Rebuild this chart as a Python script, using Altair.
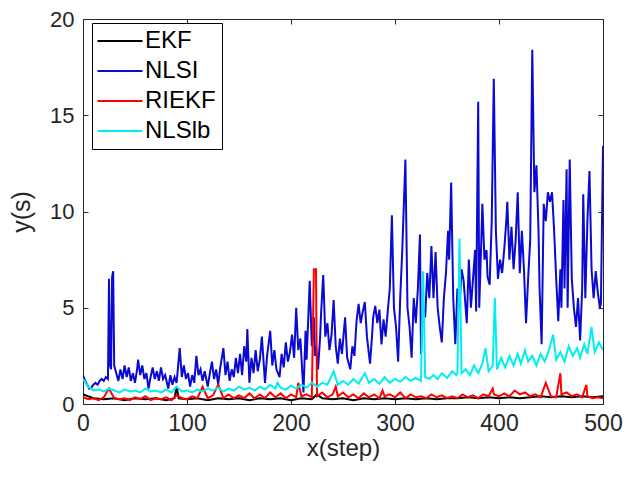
import altair as alt
import pandas as pd

names = ["EKF", "NLSI", "RIEKF", "NLSlb"]
colors = ["#000000", "#0a0ad2", "#ff0000", "#00eef0"]
x_ticks = [0, 100, 200, 300, 400, 500]
y_ticks = [0, 5, 10, 15, 20]

ekf_x = [0, 10, 20, 30, 40, 50, 60, 70, 80, 88, 90, 92, 100, 110, 120, 130, 140, 150, 160, 170, 180,
         190, 200, 210, 220, 225, 230, 240, 250, 260, 270, 280, 290, 300, 310, 320, 330, 340, 350,
         360, 370, 380, 390, 400, 410, 420, 430, 440, 450, 460, 470, 480, 490, 500]
ekf_y = [0.5, 0.3, 0.25, 0.3, 0.2, 0.3, 0.25, 0.3, 0.2, 0.3, 0.9, 0.3, 0.25, 0.3, 0.2, 0.3, 0.25, 0.3,
         0.2, 0.3, 0.25, 0.3, 0.2, 0.3, 0.25, 0.5, 0.3, 0.25, 0.3, 0.2, 0.3, 0.25, 0.3, 0.25, 0.3, 0.25,
         0.3, 0.25, 0.3, 0.3, 0.35, 0.3, 0.35, 0.3, 0.35, 0.3, 0.35, 0.4, 0.35, 0.4, 0.35, 0.4, 0.35, 0.4]

nlsi_x = [0, 2, 4, 6, 8, 10, 12, 14, 16, 18, 20, 22, 24, 25, 26, 27, 28, 29, 30, 32, 34, 36, 38, 40,
          42, 44, 46, 48, 50, 52, 53, 55, 57, 59, 61, 63, 65, 67, 69, 71, 73, 75, 77, 79, 82, 84, 86,
          88, 90, 93, 95, 97, 99, 101, 103, 105, 107, 109, 111, 113, 115, 117, 120, 122, 124, 126,
          128, 130, 132, 135, 137, 139, 141, 143, 145, 147, 149, 151, 153, 155, 157, 158, 160, 162,
          164, 166, 168, 170, 172, 174, 175, 177, 180, 182, 184, 186, 189, 191, 193, 195, 197, 199,
          201, 203, 205, 207, 209, 212, 214, 215, 218, 220, 222, 223, 224, 226, 228, 229, 231, 233,
          235, 237, 239, 241, 243, 245, 247, 249, 252, 254, 257, 259, 261, 263, 265, 267, 269, 271,
          273, 276, 278, 279, 281, 283, 285, 287, 289, 291, 293, 295, 297, 299, 301, 303, 305, 307,
          310, 312, 314, 316, 318, 320, 322, 324, 325, 327, 329, 331, 333, 335, 337, 339, 341, 343,
          345, 347, 349, 351, 352, 354, 356, 358, 360, 362, 364, 366, 369, 371, 373, 375, 377, 378,
          380, 381, 383, 384, 386, 388, 389, 391, 393, 395, 397, 399, 401, 403, 405, 407, 408, 410,
          412, 414, 416, 418, 420, 422, 424, 426, 428, 430, 432, 434, 436, 438, 439, 441, 443, 445,
          447, 449, 451, 453, 455, 457, 459, 460, 462, 463, 465, 466, 468, 470, 472, 474, 476, 478,
          480, 481, 483, 485, 487, 489, 491, 493, 495, 497, 498, 500]
nlsi_y = [1.5, 1.2, 1.0, 0.8, 0.85, 1.0, 1.1, 1.0, 1.2, 1.3, 1.2, 1.4, 1.3, 6.5, 2.0, 1.8, 6.6, 6.9,
          2.0, 1.6, 1.2, 1.8, 1.3, 2.0, 1.4, 1.9, 1.2, 1.6, 1.1, 1.8, 2.3, 1.5, 2.0, 1.3, 1.6, 0.8,
          1.4, 1.9, 1.3, 1.7, 1.2, 1.9, 1.3, 1.5, 0.8, 1.5, 1.0, 1.4, 1.1, 2.9, 1.4, 2.0, 1.3, 1.6,
          0.9, 1.5, 1.1, 2.5, 1.5, 1.8, 1.2, 1.7, 0.9, 1.6, 2.2, 1.3, 1.8, 1.0, 1.9, 2.9, 1.5, 2.2,
          1.2, 1.8, 1.4, 2.4, 1.6, 2.6, 1.5, 3.0, 2.2, 3.9, 1.1, 2.4, 1.6, 2.8, 1.7, 2.3, 3.5, 1.9,
          1.1, 2.5, 3.8, 2.0, 2.8, 1.8, 1.4, 2.6, 1.9, 3.2, 2.2, 2.7, 3.6, 2.4, 5.0, 2.8, 3.4, 0.6,
          3.8, 2.3, 6.4, 3.0, 4.5, 2.5, 3.0, 1.8, 3.5, 4.8, 6.7, 3.5, 4.2, 2.8, 3.6, 5.4, 3.0, 2.1,
          3.4, 2.6, 4.5, 2.4, 1.8, 3.0, 2.5, 4.3, 5.2, 4.2, 4.8, 5.3, 3.5, 2.1, 3.6, 4.5, 5.1, 4.2,
          4.9, 3.1, 4.4, 3.5, 4.8, 6.0, 9.8, 5.0, 4.0, 2.2, 5.5, 8.0, 12.7, 5.0, 4.0, 2.4, 5.5, 4.2,
          6.0, 8.8, 2.6, 5.0, 4.5, 6.8, 5.5, 8.2, 5.5, 7.9, 5.0, 4.0, 3.2, 5.5, 6.8, 9.0, 7.5, 11.5,
          5.5, 3.1, 6.0, 5.0, 7.0, 6.4, 4.2, 7.5, 5.0, 6.5, 8.0, 4.8, 15.7, 5.0, 8.5, 10.4, 7.5, 8.0,
          6.6, 6.2, 9.5, 16.9, 9.0, 6.5, 7.5, 6.8, 8.0, 9.5, 10.5, 7.5, 9.2, 7.0, 8.5, 11.0, 6.8, 9.0,
          7.0, 4.2, 6.5, 8.5, 18.4, 11.0, 12.4, 9.0, 6.0, 3.1, 10.4, 9.5, 11.0, 10.5, 11.0, 9.0, 6.5,
          4.3, 7.0, 5.0, 10.6, 6.0, 12.2, 5.0, 12.7, 6.5, 5.0, 4.0, 5.5, 3.3, 6.0, 10.9, 5.5, 9.5,
          12.1, 7.0, 5.5, 6.9, 5.8, 5.0, 5.2, 13.4]

riekf_x = [0, 5, 10, 15, 20, 25, 30, 35, 40, 45, 50, 55, 60, 65, 70, 75, 80, 85, 90, 95, 100, 105,
           110, 115, 120, 125, 130, 135, 140, 145, 150, 155, 160, 165, 170, 175, 180, 185, 190, 195,
           200, 205, 207, 210, 215, 220, 222, 224, 225, 230, 235, 240, 243, 245, 250, 255, 260, 265,
           270, 275, 280, 285, 288, 290, 295, 300, 305, 310, 315, 320, 325, 330, 335, 340, 345, 350,
           355, 360, 365, 370, 375, 380, 385, 390, 394, 395, 400, 405, 410, 415, 420, 425, 430, 435,
           440, 445, 450, 455, 459, 460, 465, 470, 475, 480, 484, 485, 490, 495, 500]
riekf_y = [0.35, 0.25, 0.3, 0.2, 0.35, 0.8, 0.3, 0.25, 0.3, 0.2, 0.35, 0.25, 0.4, 0.2, 0.3, 0.25,
           0.35, 0.2, 0.45, 0.3, 0.25, 0.4, 0.3, 0.9, 0.3, 0.45, 1.0, 0.3, 0.5, 0.3, 0.45, 0.3, 0.55,
           0.3, 0.5, 0.3, 0.6, 0.35, 0.55, 0.3, 0.5, 0.35, 1.1, 0.4, 0.5, 0.35, 7.0, 7.0, 0.4, 0.6,
           0.35, 0.5, 0.9, 0.4, 0.6, 0.35, 0.5, 0.3, 0.55, 0.35, 0.5, 0.3, 0.7, 0.4, 0.5, 0.35, 0.6,
           0.3, 0.5, 0.35, 0.4, 0.3, 0.5, 0.35, 0.45, 0.3, 0.4, 0.3, 0.5, 0.35, 0.45, 0.3, 0.5, 0.4,
           0.8, 0.5, 0.4, 0.55, 0.4, 0.7, 0.5, 0.6, 0.4, 0.5, 0.35, 1.1, 0.4, 0.35, 1.6, 0.5, 0.6,
           0.4, 0.5, 0.35, 1.0, 0.4, 0.3, 0.35, 0.3]

nlslb_x = [0, 5, 10, 15, 20, 25, 30, 35, 40, 45, 50, 55, 60, 65, 70, 75, 80, 85, 90, 95, 100, 105,
           110, 115, 120, 125, 130, 135, 140, 145, 150, 155, 160, 165, 170, 175, 180, 185, 187, 190,
           195, 200, 205, 210, 215, 220, 225, 230, 235, 241, 245, 250, 255, 260, 265, 271, 275, 280,
           285, 290, 295, 300, 305, 310, 315, 320, 325, 327, 329, 333, 337, 341, 345, 350, 355, 359,
           360, 362, 364, 368, 372, 376, 380, 384, 387, 390, 394, 396, 398, 402, 406, 410, 414, 418,
           421, 425, 428, 432, 436, 440, 444, 448, 452, 455, 459, 463, 467, 471, 475, 478, 482, 485,
           489, 492, 496, 500]
nlslb_y = [1.3, 0.9, 0.7, 0.75, 0.65, 0.8, 0.7, 0.6, 0.75, 0.65, 0.7, 0.6, 0.8, 0.65, 0.7, 0.6, 0.75,
           0.6, 0.9, 0.65, 0.7, 0.6, 0.75, 0.65, 0.8, 0.7, 0.85, 0.65, 0.8, 0.7, 0.9, 0.75, 0.85, 0.7,
           0.9, 0.75, 1.0, 0.8, 1.1, 0.85, 0.75, 0.95, 0.8, 1.0, 0.85, 1.1, 0.9, 1.1, 1.0, 1.7, 1.0,
           1.2, 1.0, 1.3, 1.05, 1.6, 1.1, 1.3, 1.05, 1.4, 1.1, 1.3, 1.15, 1.4, 1.2, 1.35, 1.2, 6.9,
           1.4, 1.3, 1.5, 1.3, 1.6, 1.35, 1.7, 1.5, 1.6, 8.6, 1.6, 1.8, 1.5, 2.0, 1.6, 2.1, 2.9, 1.7,
           2.0, 5.5, 1.8, 2.4, 1.9, 2.5, 2.0, 2.6, 2.1, 2.8, 2.2, 2.5, 2.0, 2.6, 2.2, 2.8, 3.6, 2.3,
           2.7, 2.2, 3.0, 2.5, 2.9, 2.4, 3.1, 2.6, 4.0, 2.7, 3.2, 2.8]

series_data = [(names[0], ekf_x, ekf_y), (names[1], nlsi_x, nlsi_y),
               (names[2], riekf_x, riekf_y), (names[3], nlslb_x, nlslb_y)]
df = pd.concat([pd.DataFrame({"step": xs, "value": ys, "series": n}) for n, xs, ys in series_data],
               ignore_index=True)

FONT = "Liberation Sans"
TXT = "#262626"

x_scale = alt.Scale(domain=[0, 500], nice=False, zero=False)
y_scale = alt.Scale(domain=[0, 20], nice=False, zero=False)

x_axis = alt.Axis(values=x_ticks, format="d", tickSize=5, offset=-5, domain=False, grid=False,
                  labelFontSize=23, labelFont=FONT, labelColor=TXT, labelPadding=8, labelFlush=False,
                  tickColor=TXT, title="x(step)", titleFont=FONT, titleFontSize=24,
                  titleFontWeight="normal", titleColor=TXT, titleBaseline="middle", titleY=49)
y_axis = alt.Axis(values=y_ticks, format="d", tickSize=5, offset=-5, domain=False, grid=False,
                  labelFontSize=22, labelFont=FONT, labelColor=TXT, labelPadding=9, labelFlush=False,
                  tickColor=TXT, title="y(s)", titleFont=FONT, titleFontSize=25,
                  titleFontWeight="normal", titleColor=TXT, titleBaseline="middle", titleX=-67)
x_axis_top = alt.Axis(values=x_ticks, orient="top", tickSize=5, offset=-5, domain=False, grid=False,
                      labels=False, tickColor=TXT, title=None)
y_axis_right = alt.Axis(values=y_ticks, orient="right", tickSize=5, offset=-5, domain=False,
                        grid=False, labels=False, tickColor=TXT, title=None)

color = alt.Color(
    "series:N",
    scale=alt.Scale(domain=names, range=colors),
    legend=alt.Legend(
        orient="none", legendX=9, legendY=4, title=None,
        symbolType="M-2.25,0H2.25", symbolSize=400, symbolStrokeWidth=2, symbolOffset=10,
        labelFontSize=24, labelFont=FONT, labelColor="#000000", labelOffset=13,
        rowPadding=6, padding=6, fillColor="white", strokeColor="#000000",
    ),
)

layers = []
for n in names:
    layers.append(
        alt.Chart(df).transform_filter(alt.datum.series == n)
        .mark_line(strokeWidth=2, clip=True)
        .encode(x=alt.X("step:Q", scale=x_scale, axis=x_axis),
                y=alt.Y("value:Q", scale=y_scale, axis=y_axis),
                color=color)
    )
lines = alt.layer(*layers)

frame = alt.Chart(df).mark_point(opacity=0).encode(
    x=alt.X("step:Q", scale=x_scale, axis=x_axis_top),
    y=alt.Y("value:Q", scale=y_scale, axis=y_axis_right),
)

chart = (
    alt.layer(lines, frame)
    .resolve_axis(x="independent", y="independent")
    .properties(width=520, height=385, background="white",
                padding={"left": 75, "top": 11, "right": 20, "bottom": 60},
                autosize=alt.AutoSizeParams(type="none"))
    .configure_view(stroke=TXT, strokeWidth=1)
)

chart.save("out.html", embed_options={"renderer": "svg", "actions": False})
